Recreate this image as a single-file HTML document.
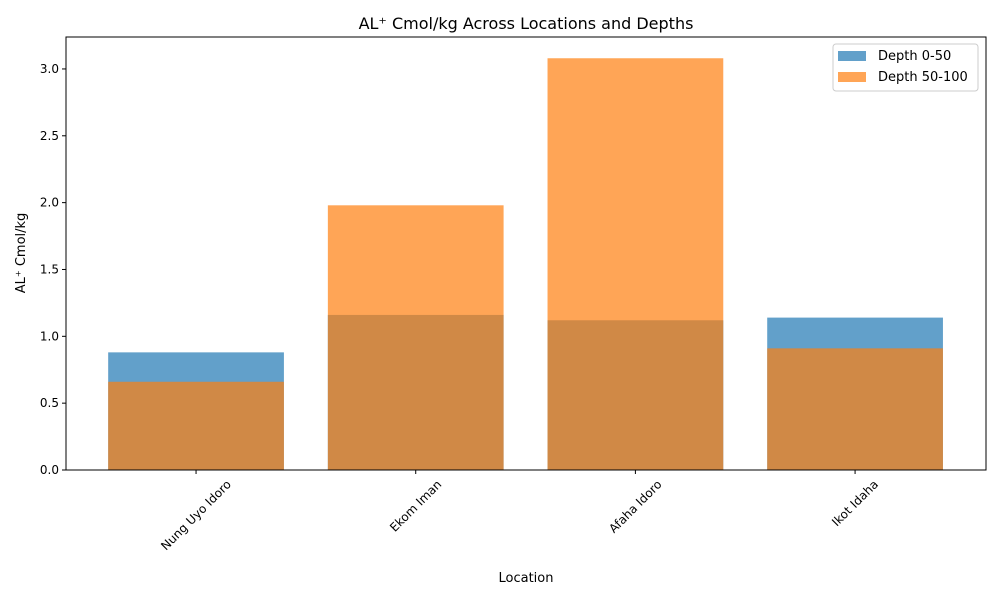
<!DOCTYPE html>
<html><head><meta charset="utf-8"><style>
body{margin:0;background:#fff;font-family:"Liberation Sans","DejaVu Sans",sans-serif;}
svg text{font-family:"DejaVu Sans","Liberation Sans",sans-serif;fill:#000;}
</style></head><body>
<svg id="chart" width="1000" height="600" xmlns="http://www.w3.org/2000/svg">
<rect width="1000" height="600" fill="#fff"/>
<g id="bars"></g>
<g id="axes"></g>
<text x="526" y="29" text-anchor="middle" font-size="16">AL⁺ Cmol/kg Across Locations and Depths</text>
<text x="526" y="582" text-anchor="middle" font-size="13">Location</text>
<text transform="translate(25,253) rotate(-90)" text-anchor="middle" font-size="13">AL⁺ Cmol/kg</text>
<g>
<rect x="833" y="44" width="145" height="47" rx="3" fill="#fff" fill-opacity="0.8" stroke="#ccc"/>
<g>
<rect x="838" y="51" width="28" height="10" fill="#1f77b4" opacity="0.7"/>
<text x="878" y="60" font-size="13">Depth 0-50</text></g>
<g>
<rect x="838" y="72" width="28" height="10" fill="#ff7f0e" opacity="0.7"/>
<text x="878" y="81" font-size="13">Depth 50-100</text></g>
</g>
</svg>
<script>
const categories=["Nung Uyo Idoro","Ekom Iman","Afaha Idoro","Ikot Idaha"];
const depth0_50=[0.88,1.16,1.12,1.14];
const depth50_100=[0.66,1.98,3.08,0.91];
const yTicks=[0,0.5,1.0,1.5,2.0,2.5,3.0];
const yTickLabels=["0.0","0.5","1.0","1.5","2.0","2.5","3.0"];
const L=66,R=986,T=37,B=470,xmin=-0.592,xmax=3.596,ymax=3.239;
const xs=v=>L+(v-xmin)/(xmax-xmin)*(R-L);
const ys=v=>B-v/ymax*(B-T);
const NS="http://www.w3.org/2000/svg";
const bars=document.getElementById('bars'),axes=document.getElementById('axes');
function mk(t,a,p){const e=document.createElementNS(NS,t);for(const k in a)e.setAttribute(k,a[k]);p.appendChild(e);return e;}
[[depth0_50,"#1f77b4","depth-0-50"],[depth50_100,"#ff7f0e","depth-50-100"]].forEach(([s,c,n])=>{
 s.forEach((v,i)=>{const r=mk('rect',{x:xs(i-0.4),y:ys(v),width:xs(i+0.4)-xs(i-0.4),height:ys(0)-ys(v),fill:c,opacity:0.7},bars);
 
 });
});
mk('rect',{x:L,y:T,width:R-L,height:B-T,fill:'none',stroke:'#000','stroke-width':1},axes);
yTicks.forEach((v,i)=>{const y=ys(v);mk('line',{x1:L-4,x2:L,y1:y,y2:y,stroke:'#000'},axes);
 const t=mk('text',{x:L-7,y:y+4,'text-anchor':'end','font-size':12},axes);t.textContent=yTickLabels[i];
 
 });
categories.forEach((c,i)=>{const x=xs(i);mk('line',{x1:x,x2:x,y1:B,y2:B+4,stroke:'#000'},axes);
 const t=mk('text',{'text-anchor':'middle','font-size':12},axes);t.textContent=c;
 const w=t.getComputedTextLength();const h=(w+12)*0.7071;
 const cy=B+8+h/2;
 t.setAttribute('transform',`translate(${x},${cy}) rotate(-45)`);
 t.setAttribute('y',4);
 
 });
</script>
</body></html>
